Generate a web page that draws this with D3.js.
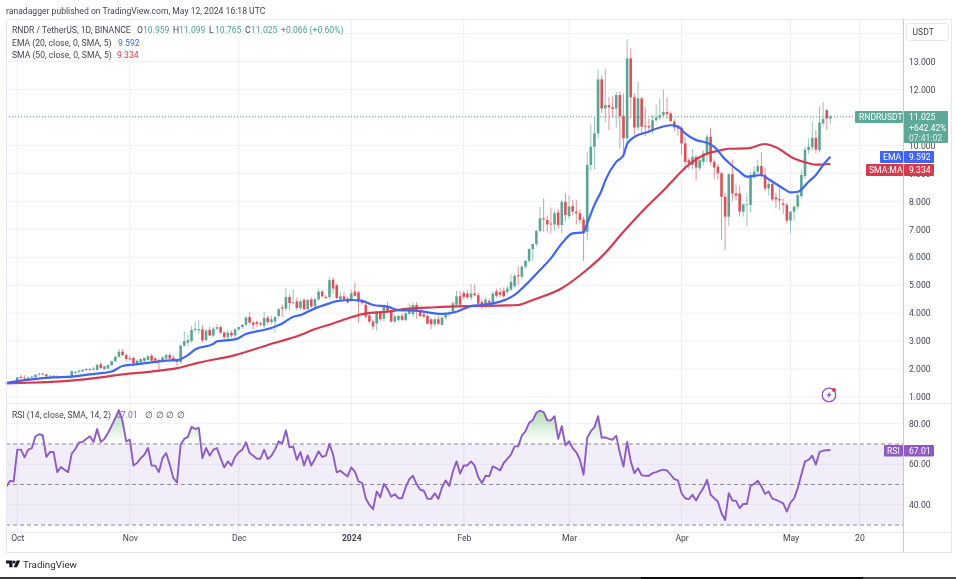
<!DOCTYPE html>
<html><head><meta charset="utf-8">
<style>html,body{margin:0;padding:0;background:#fff;overflow:hidden}svg{display:block;filter:blur(.3px)}text{font-family:Roboto,"Liberation Sans",sans-serif}</style>
<script src="https://cdn.jsdelivr.net/npm/d3@7/dist/d3.min.js"></script>
</head><body><svg id="c" width="956" height="579"></svg>
<script>
// first candle is three days before 1 Oct 2023 (day 0); last is 12 May 2024 (day 224)
const firstDay = -3;
const open = [1.50,1.52,1.50,1.53,1.72,1.68,1.64,1.69,1.70,1.80,
1.83,1.81,1.74,1.76,1.74,1.70,1.72,1.72,1.70,1.86,
1.90,1.92,1.96,2.00,1.98,1.97,2.17,2.00,2.02,2.14,
2.28,2.44,2.62,2.50,2.38,2.40,2.18,2.24,2.28,2.32,
2.48,2.38,2.32,2.28,2.38,2.50,2.40,2.32,2.25,2.84,
2.94,3.00,3.40,3.38,3.42,3.04,3.40,3.20,3.44,3.50,
3.30,3.14,3.30,3.20,3.42,3.50,3.58,3.86,3.66,3.68,
3.64,3.55,3.84,3.68,3.70,3.90,4.20,4.16,4.58,4.36,
4.42,4.18,4.48,4.14,4.49,4.24,4.49,4.77,4.58,4.58,
5.20,5.00,4.50,4.60,4.52,4.46,4.77,4.74,4.44,4.30,
3.92,3.70,3.63,4.02,3.80,4.23,4.05,3.70,3.75,3.90,
3.75,3.98,3.96,4.29,4.10,3.96,3.90,3.78,3.60,3.78,
3.58,3.84,3.98,4.05,4.30,4.60,4.72,4.70,4.56,4.70,
4.64,4.40,4.24,4.44,4.38,4.78,4.75,4.80,4.76,4.84,
4.96,5.36,5.30,5.66,5.87,6.29,6.47,6.94,7.39,7.33,
7.20,7.17,7.60,7.15,7.98,7.47,7.83,7.63,7.57,7.35,
6.91,9.30,9.95,10.43,12.36,11.32,11.44,11.36,11.32,11.80,
11.05,10.25,13.11,11.72,10.64,11.68,10.70,10.69,10.55,10.90,
10.99,11.08,11.19,11.14,10.85,10.67,10.63,10.07,9.47,9.30,
9.59,9.18,9.41,9.71,10.31,9.41,9.24,9.00,8.16,7.45,
8.97,8.28,8.28,7.63,7.87,7.87,8.90,9.06,9.26,8.94,
8.46,8.62,8.14,8.08,7.92,7.87,7.31,7.63,7.81,8.19,
8.90,9.83,9.93,10.27,9.83,10.79,11.26,10.959];
const high = [1.54,1.56,1.56,1.72,1.80,1.78,1.72,1.76,1.82,1.88,
1.86,1.83,1.78,1.79,1.78,1.74,1.74,1.75,1.95,1.93,
1.98,2.00,2.03,2.05,2.08,2.18,2.25,2.12,2.16,2.30,
2.46,2.72,2.72,2.56,2.48,2.44,2.34,2.38,2.42,2.52,
2.54,2.44,2.38,2.46,2.56,2.58,2.50,2.36,2.88,3.36,
3.22,3.54,3.70,3.75,3.58,3.42,3.52,3.50,3.60,3.56,
3.36,3.40,3.38,3.46,3.52,3.62,3.88,4.04,3.72,3.74,
3.70,4.04,3.92,3.90,3.90,4.18,4.30,4.90,4.68,4.84,
4.56,4.46,4.52,4.50,4.56,4.54,4.88,4.82,4.64,5.30,
5.28,5.05,4.77,4.76,4.58,4.83,5.10,4.80,4.50,4.36,
3.98,3.78,4.08,4.08,4.30,4.40,4.12,3.95,3.92,3.98,
4.02,4.35,4.38,4.40,4.22,4.05,3.96,3.82,3.86,3.90,
3.90,4.04,4.10,4.42,4.80,4.80,4.80,4.82,5.05,5.04,
4.72,4.48,4.56,4.52,4.78,4.86,4.90,4.92,4.98,5.40,
5.40,5.68,5.72,5.90,6.32,6.50,6.98,7.81,8.10,7.50,
7.78,7.65,7.73,8.05,8.30,8.20,8.05,8.05,7.70,7.45,
9.78,10.75,11.00,12.72,12.50,12.75,11.72,11.75,11.92,11.92,
11.85,13.80,13.47,11.85,12.28,11.72,11.38,10.95,11.08,11.45,
11.68,12.00,11.72,11.22,10.95,10.75,10.70,10.30,9.55,9.88,
9.65,9.55,9.83,10.40,10.63,9.50,9.35,9.05,8.30,9.00,
9.50,8.60,8.56,7.92,8.30,9.05,9.25,9.48,9.75,9.20,
8.72,8.70,8.30,8.46,8.10,7.95,7.65,7.85,8.30,9.13,
9.95,10.25,10.85,10.55,11.40,11.55,11.30,11.099];
const low = [1.47,1.48,1.47,1.50,1.65,1.62,1.60,1.65,1.68,1.76,
1.78,1.70,1.68,1.68,1.66,1.66,1.68,1.66,1.68,1.83,
1.87,1.90,1.93,1.94,1.95,1.94,1.99,1.96,1.98,2.10,
2.24,2.40,2.46,2.28,2.30,2.10,2.12,2.20,2.24,2.30,
2.26,2.26,1.95,2.24,2.34,2.30,2.26,2.10,2.18,2.78,
2.80,2.94,3.32,3.24,2.95,2.98,3.18,3.14,3.38,3.26,
3.08,3.00,3.14,3.12,3.36,3.44,3.52,3.60,3.42,3.50,
3.54,3.46,3.60,3.60,3.30,3.82,3.86,4.08,4.10,4.30,
4.12,4.10,4.08,4.10,4.18,4.18,4.44,4.56,4.50,4.52,
4.70,4.50,4.40,4.44,4.34,4.40,4.58,3.64,4.30,3.80,
3.64,3.40,3.37,3.72,3.70,4.00,3.65,3.62,3.72,3.72,
3.70,3.92,3.88,3.80,3.85,3.82,3.60,3.42,3.54,3.58,
3.56,3.78,3.88,3.98,4.22,4.26,4.50,4.50,4.46,4.60,
4.28,4.14,4.18,4.32,4.30,4.55,4.58,4.56,4.68,4.78,
4.92,5.00,5.20,5.60,5.80,5.85,6.40,6.88,6.91,6.88,
6.85,6.95,7.01,6.84,7.28,7.38,7.50,7.17,7.20,5.87,
6.60,9.10,9.15,10.25,11.15,10.85,10.55,11.00,10.64,9.90,
9.60,10.05,10.99,10.30,10.55,10.45,10.33,10.43,10.40,10.85,
10.90,11.00,10.95,10.82,10.50,10.35,9.67,9.10,9.16,9.16,
8.74,9.10,9.30,9.41,9.28,8.79,8.77,6.61,6.26,7.11,
8.00,8.05,7.45,7.45,7.10,7.60,8.80,8.95,8.85,8.35,
8.20,8.00,7.75,7.70,7.55,7.20,6.86,7.31,7.70,8.10,
8.80,9.70,9.80,9.72,9.75,10.70,10.55,10.765];
const close = [1.52,1.50,1.53,1.70,1.68,1.66,1.69,1.73,1.80,1.83,
1.81,1.74,1.76,1.72,1.69,1.72,1.70,1.68,1.92,1.90,
1.94,1.97,2.00,1.98,2.02,2.15,2.04,2.10,2.14,2.28,
2.44,2.62,2.50,2.36,2.34,2.20,2.30,2.36,2.40,2.46,
2.30,2.30,2.28,2.42,2.50,2.38,2.30,2.25,2.84,3.00,
3.04,3.40,3.44,3.42,3.02,3.38,3.20,3.44,3.50,3.30,
3.14,3.30,3.20,3.42,3.50,3.58,3.84,3.66,3.58,3.62,
3.60,3.82,3.68,3.78,3.86,4.14,4.16,4.58,4.36,4.38,
4.18,4.42,4.14,4.47,4.24,4.50,4.77,4.60,4.54,5.18,
4.88,4.54,4.60,4.50,4.38,4.71,4.62,4.41,4.36,3.88,
3.70,3.52,4.05,3.78,4.23,4.05,3.70,3.88,3.90,3.76,
3.99,4.17,4.29,4.05,3.90,3.88,3.62,3.60,3.78,3.62,
3.84,3.98,4.04,4.35,4.60,4.30,4.58,4.56,4.70,4.64,
4.34,4.22,4.48,4.38,4.70,4.62,4.66,4.60,4.88,5.12,
5.33,5.32,5.66,5.87,6.29,6.47,6.94,7.39,7.35,7.17,
7.17,7.57,7.15,7.98,7.51,7.81,7.63,7.57,7.33,6.88,
9.30,9.95,10.43,12.36,11.32,11.44,11.36,11.30,11.80,11.05,
10.25,13.11,11.72,10.64,11.68,10.67,10.67,10.64,10.90,10.99,
11.08,11.19,11.12,10.87,10.64,10.61,10.07,9.41,9.35,9.59,
9.21,9.47,9.71,10.31,9.41,9.21,9.00,8.16,7.45,8.97,
8.28,8.20,7.63,7.89,7.89,8.90,9.06,9.26,8.94,8.46,
8.62,8.07,8.07,8.03,7.87,7.31,7.63,7.81,8.22,8.94,
9.85,9.95,10.27,9.85,10.82,10.94,10.96,11.025];
const rsi = [49,51.8,51.5,67.2,67.2,63.4,67.2,67.9,73.8,74.8,
74.3,63.6,66,66,56.1,58.6,57.3,56.1,65.2,67.5,
70.8,71,72.5,73.8,71,77.4,71,72.5,75.5,79,
82.9,86.7,81.2,71.3,72.1,59.4,60.6,63,64.7,68,
59.4,59.3,56.1,63,65.5,59.8,53.1,51,69.7,72.5,
73.5,78.4,77.4,77.9,63,68,64.2,67.2,68,63,
58.4,61.4,59.3,63.6,65.9,67.2,70.8,65.5,64.2,62.7,
62.7,67.2,62.6,64.2,67.2,71.3,70.2,76.8,68.3,68.8,
62.2,66,59.4,64.4,59.3,62.6,66.4,63.6,64.2,70,
64.7,56,56.8,55.3,54,58.4,56.4,51.5,50.7,43.2,
39.9,37.8,46.5,43.7,50.3,47.7,44,45.2,43.2,43.2,
48.7,52.6,54.3,50.2,47.4,46.9,42.9,42.9,45.7,42.9,
48.5,52,49.3,56.4,61.4,55.3,59.4,59.4,61.4,59.3,
53.6,50.7,54.3,54,58.9,58.1,56.9,60.6,62.6,64.7,
68.8,68.8,74.1,76.3,80.4,81.7,85.4,86.5,85.7,81.7,
81.6,83.7,72.5,78.8,69.3,71.3,68,65.9,62.2,54.8,
73,76.3,78.3,83.7,73,73.3,72.5,72.1,74.1,65.5,
58.9,71,61.4,55.6,58,54.5,54.3,54.3,55.6,56.1,
56.8,57.3,56.9,54.8,52.6,52,45.7,43.2,42.7,44.9,
42.1,45.4,48.2,52.3,44.9,43.2,41.6,35.8,32.5,45.7,
42.1,41.9,38.3,40.4,40.4,49.3,50.3,51.8,49,45.4,
46.5,43,42.4,41.6,40.7,36.6,41.1,43.2,48.2,54.8,
61.4,62.2,64.2,59.8,66,66.7,66.9,67.01];
const emaDays = [-3,4,10,15,20,26,29,32,37,41,44,47,49,54,55,60,63,69,73,76,78,82,86,88,92,95,98,102,105,110,115,117,121,125,128,133,137,140,144,147,150,153,156,157,159,161,162,165,167,168,171,173,177,180,182,184,188,189,192,195,196,199,201,205,207,211,213,215,218,220,222,224];
const emaVals = [1.51,1.63,1.70,1.73,1.81,1.91,2.11,2.16,2.24,2.30,2.32,2.50,2.70,2.90,2.99,3.06,3.25,3.43,3.63,3.87,3.93,4.17,4.35,4.43,4.47,4.44,4.29,4.23,4.11,4.09,3.99,3.97,4.05,4.25,4.29,4.41,4.65,5.00,5.54,5.96,6.49,6.85,6.89,7.21,7.87,8.40,8.75,9.41,9.65,10.05,10.37,10.45,10.64,10.72,10.67,10.43,10.15,10.13,9.95,9.50,9.38,9.06,8.88,8.94,8.79,8.46,8.32,8.34,8.70,8.94,9.30,9.592];
const smaDays = [-3,3,14,23,29,37,44,50,60,69,78,82,87,92,96,102,107,115,124,133,138,142,150,157,161,167,173,179,180,184,189,194,196,201,206,209,214,218,220,224];
const smaVals = [1.49,1.51,1.58,1.70,1.81,1.91,2.03,2.23,2.50,2.86,3.22,3.43,3.63,3.85,3.99,4.05,4.15,4.21,4.25,4.27,4.29,4.47,4.89,5.56,6.02,6.91,7.75,8.52,8.66,9.20,9.65,9.83,9.88,9.89,10.05,9.93,9.53,9.36,9.31,9.334];
const priceTicks = [1,2,3,4,5,6,7,8,9,10,11,12,13];
const priceGrid = [1,2,3,4,5,6,7,8,9,10,11,12,13,14];
const rsiTicks = [40,60,80];
const rsiBands = [70,50,30];
const timeDays = [0,31,61,92,123,152,183,213,232];
const timeLabels = ["Oct","Nov","Dec","2024","Feb","Mar","Apr","May","20"];

const svg = d3.select("#c");
const L = 6, R = 903, OUT = 951, TOP = 19, SEP = 403, AX = 532, BOT = 552;
const x = d3.scaleLinear().domain([0,224]).range([17.3,830.4]);
const y = d3.scaleLinear().domain([1,13]).range([397,61.5]);
const yr = d3.scaleLinear().domain([30,80]).range([525,423.7]);
const up = "#5aa594", dn = "#d9525a", ink = "#434651";
const days = d3.range(close.length).map(i => i + firstDay);

// grid
const g = svg.append("g");
g.selectAll(".v").data(timeDays).join("line").attr("x1",d=>x(d)).attr("x2",d=>x(d)).attr("y1",TOP).attr("y2",AX).attr("stroke","#eceef5");
g.selectAll(".h").data(priceGrid).join("line").attr("x1",L).attr("x2",R).attr("y1",d=>y(d)).attr("y2",d=>y(d)).attr("stroke","#eff1f7");
g.selectAll(".r").data(rsiTicks).join("line").attr("x1",L).attr("x2",R).attr("y1",d=>yr(d)).attr("y2",d=>yr(d)).attr("stroke","#eff1f7");

// RSI background
svg.append("rect").attr("x",L).attr("width",R-L).attr("y",yr(70)).attr("height",yr(30)-yr(70)).attr("fill","#7e57c2").attr("opacity",.1);
svg.selectAll(".band").data(rsiBands).join("line").attr("x1",L).attr("x2",R).attr("y1",d=>yr(d)).attr("y2",d=>yr(d)).attr("stroke","#8a8c96").attr("stroke-dasharray","4 3");

// overbought gradient
const defs = svg.append("defs");
const grad = defs.append("linearGradient").attr("id","ob").attr("gradientUnits","userSpaceOnUse").attr("x1",0).attr("x2",0).attr("y1",yr(90)).attr("y2",yr(70));
grad.append("stop").attr("offset",0).attr("stop-color","#4caf50").attr("stop-opacity",.5);
grad.append("stop").attr("offset",1).attr("stop-color","#4caf50").attr("stop-opacity",0);
defs.append("clipPath").attr("id","above").append("rect").attr("x",L).attr("width",R-L).attr("y",TOP).attr("height",yr(70)-TOP);
svg.append("path").datum(rsi).attr("clip-path","url(#above)").attr("fill","url(#ob)")
  .attr("d",d3.area().x((d,i)=>x(days[i])).y0(yr(70)).y1(d=>yr(d)));

// last price dotted line
svg.append("line").attr("x1",L).attr("x2",R).attr("y1",y(close[close.length-1])).attr("y2",y(close[close.length-1])).attr("stroke","#5aa594").attr("stroke-dasharray","1 2");

// candles
const candles = svg.append("g").selectAll("g").data(days).join("g");
const col = (d,i) => close[i] >= open[i] ? up : dn;
candles.append("line").attr("x1",d=>x(d)).attr("x2",d=>x(d)).attr("y1",(d,i)=>y(high[i])).attr("y2",(d,i)=>y(low[i])).attr("stroke",col).attr("stroke-width",.9).attr("opacity",.7);
candles.append("rect").attr("x",d=>x(d)-1.3).attr("width",2.6).attr("y",(d,i)=>y(Math.max(open[i],close[i])))
  .attr("height",(d,i)=>Math.max(.8,Math.abs(y(open[i])-y(close[i])))).attr("fill",col);

// moving averages
const lineGen = d3.line().x(d=>x(d[0])).y(d=>y(d[1])).curve(d3.curveMonotoneX);
svg.append("path").attr("d",lineGen(d3.zip(smaDays,smaVals))).attr("fill","none").attr("stroke","#d33c4e").attr("stroke-width",2.2);
svg.append("path").attr("d",lineGen(d3.zip(emaDays,emaVals))).attr("fill","none").attr("stroke","#3f66f2").attr("stroke-width",2.2);

// RSI line
svg.append("path").datum(rsi).attr("fill","none").attr("stroke","#8e5bc4").attr("stroke-width",1.9).attr("stroke-linejoin","round")
  .attr("d",d3.line().x((d,i)=>x(days[i])).y(d=>yr(d)));

// frame
const fr = "#e6e8f0";
svg.append("rect").attr("x",L+.5).attr("y",TOP+.5).attr("width",OUT-L).attr("height",BOT-TOP).attr("fill","none").attr("stroke",fr);
svg.append("line").attr("x1",L).attr("x2",OUT).attr("y1",SEP+.5).attr("y2",SEP+.5).attr("stroke",fr);
svg.append("line").attr("x1",L).attr("x2",OUT).attr("y1",AX+.5).attr("y2",AX+.5).attr("stroke",fr);
svg.append("line").attr("x1",R+.5).attr("x2",R+.5).attr("y1",TOP).attr("y2",BOT).attr("stroke","#c9cbd3");

// axes
const fs = 8.6;
const pAxis = svg.append("g").attr("transform",`translate(${R+6},0)`).call(d3.axisRight(y).tickValues(priceTicks).tickFormat(d3.format(".3f")).tickSize(0).tickPadding(0));
const rAxis = svg.append("g").attr("transform",`translate(${R+6},0)`).call(d3.axisRight(yr).tickValues(rsiTicks).tickFormat(d3.format(".2f")).tickSize(0).tickPadding(0));
const tAxis = svg.append("g").attr("transform",`translate(0,${AX+3})`).call(d3.axisBottom(x).tickValues(timeDays).tickFormat((d,i)=>timeLabels[i]).tickSize(0).tickPadding(0));
[pAxis,rAxis,tAxis].forEach(a=>{a.select(".domain").remove();a.selectAll("text").attr("font-size",fs).attr("fill",ink).style("font-family","Roboto");});
tAxis.selectAll("text").filter(d=>d===92).attr("font-weight",700);

// USDT box
svg.append("rect").attr("x",906.5).attr("y",23.5).attr("width",42).attr("height",17).attr("rx",2.5).attr("fill","#fff").attr("stroke","#e6e8f0");
function T(x0,y0,s,c,opt={}){return svg.append("text").attr("x",x0).attr("y",y0).attr("fill",c).attr("font-size",opt.fs||fs).attr("text-anchor",opt.a||"start").attr("font-weight",opt.w||400).text(s);}
T(912.5,35,"USDT",ink);

// price tags
function tag(x0,w,y0,h,c){svg.append("rect").attr("x",x0).attr("y",y0).attr("width",w).attr("height",h).attr("rx",1).attr("fill",c);}
tag(855,48,111,12,"#5ea899");tag(904,44,111,32,"#5ea899");
T(859,120,"RNDRUSDT","#fff");T(909,120,"11.025","#fff");T(909,130.5,"+642.42%","#fff");T(909,140.5,"07:41:02","#dceee9");
tag(880,23,151,12,"#3f66f2");tag(904,30,151,12,"#3f66f2");T(883,160,"EMA","#fff");T(909,160,"9.592","#fff");
tag(866,37,164,12,"#d33c4e");tag(904,30,164,12,"#d33c4e");T(869,173,"SMA:MA","#fff");T(909,173,"9.334","#fff");
tag(884,19,445,11.5,"#8e5bc4");tag(904,30,445,11.5,"#8e5bc4");T(887,453.5,"RSI","#fff");T(909,453.5,"67.01","#fff");

// header & legends
T(6,13.5,"ranadagger published on TradingView.com, May 12, 2024 16:18 UTC",ink);
const gr="#4fa08f";
T(12,33,"RNDR / TetherUS, 1D, BINANCE",ink);
T(137,33,"O",ink);T(143,33,"10.959",gr);T(173,33,"H",ink);T(179,33,"11.099",gr);T(209,33,"L",ink);T(215,33,"10.765",gr);T(245,33,"C",ink);T(251,33,"11.025",gr);T(281,33,"+0.066 (+0.60%)",gr);
T(12,46,"EMA (20, close, 0, SMA, 5)",ink);T(118,46,"9.592","#3f66f2");
T(12,58,"SMA (50, close, 0, SMA, 5)",ink);T(117,58,"9.334","#d33c4e");
T(12,418,"RSI (14, close, SMA, 14, 2)",ink);T(116,418,"67.01","#8e5bc4");
["∅","∅","∅","∅"].forEach((s,i)=>T(145+i*10.7,418,s,ink));

// flash icon
const ic=svg.append("g").attr("transform","translate(829,395)");
ic.append("circle").attr("r",6.8).attr("fill","#fff").attr("stroke","#9c4fc4").attr("stroke-width",1.3);
ic.append("path").attr("d","M1.5-4-2.5 .8H-.2L-1.2 4 2.5-.8H.3Z").attr("fill","#9c4fc4");
ic.append("circle").attr("cx",5).attr("cy",-5).attr("r",2).attr("fill","#e53935");

// TradingView logo
const lg=svg.append("g").attr("transform","translate(6,560.5)").attr("fill","#131722");
lg.append("path").attr("d","M0 0H6.5V6.8H3.3V3H0Z");
lg.append("circle").attr("cx",8.2).attr("cy",1.5).attr("r",1.5);
lg.append("path").attr("d","M10.8 0H14.2L11 6.8H7.6Z");
T(23,567.5,"TradingView","#2a2e39",{fs:9.8});

// bottom strip
[[0,641,"#3a3a3a"],[641,222,"#0c0c0c"],[863,93,"#454545"]].forEach(s=>svg.append("rect").attr("x",s[0]).attr("y",577).attr("width",s[1]).attr("height",2).attr("fill",s[2]));
</script></body></html>
